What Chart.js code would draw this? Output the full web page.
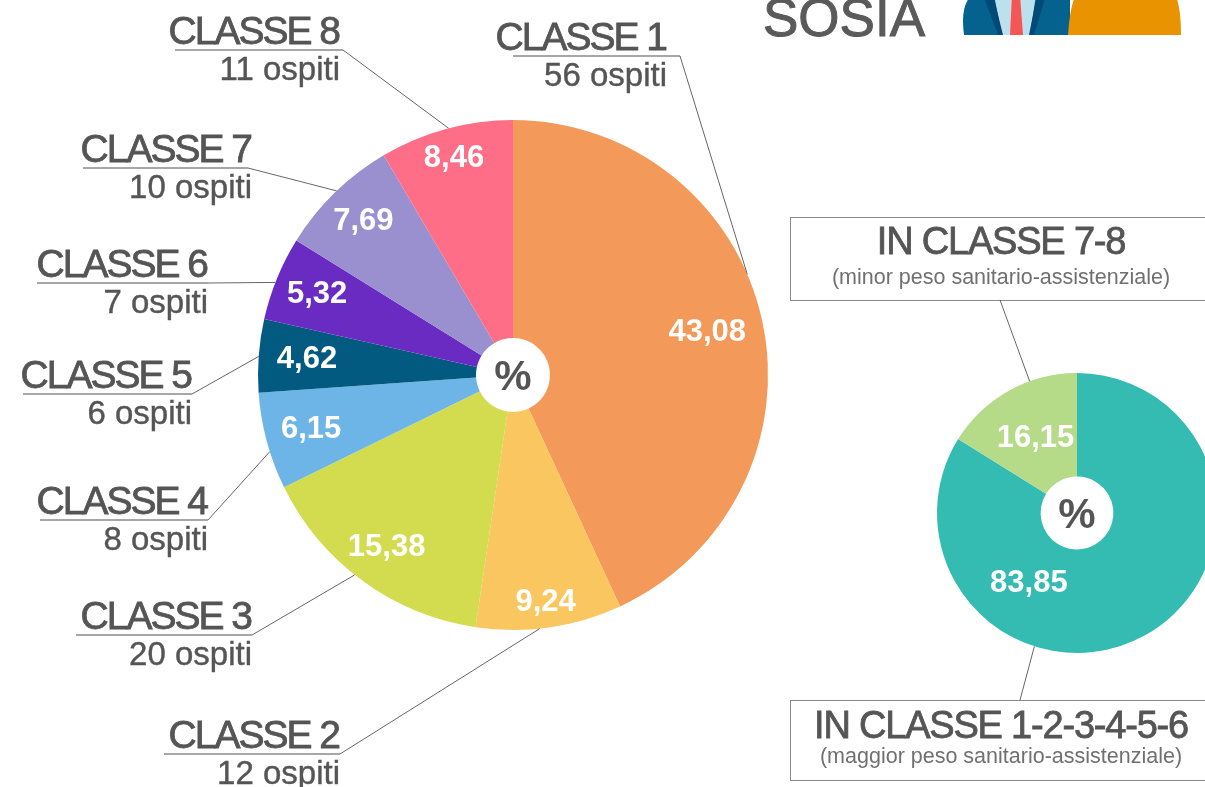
<!DOCTYPE html>
<html>
<head>
<meta charset="utf-8">
<script src="https://cdn.jsdelivr.net/npm/chart.js@4/dist/chart.umd.min.js"></script>
<style>
html, body { margin:0; padding:0; background:#fff; overflow:hidden; width:1205px; height:787px; }
#wrap { position:relative; width:1220px; height:787px; }
canvas { position:absolute; left:0; top:0; }
</style>
</head>
<body>
<div id="wrap">
  <canvas id="classiPie" width="1220" height="787"></canvas>
  <canvas id="gruppiPie" width="1220" height="787"></canvas>
</div>
<script>
// dati
var classi = ['CLASSE 1','CLASSE 2','CLASSE 3','CLASSE 4','CLASSE 5','CLASSE 6','CLASSE 7','CLASSE 8'];
var ospiti = [56, 12, 20, 8, 6, 7, 10, 11];
var percClassi = [43.08, 9.24, 15.38, 6.15, 4.62, 5.32, 7.69, 8.46];
var coloriClassi = ['#F39A5A','#FAC65F','#D3DC4F','#6DB5E6','#035A80','#6A2BC3','#9A8FCF','#FF6E87'];

var gruppi = ['IN CLASSE 1-2-3-4-5-6','IN CLASSE 7-8'];
var gruppiNote = ['(maggior peso sanitario-assistenziale)','(minor peso sanitario-assistenziale)'];
var percGruppi = [83.85, 16.15];
var coloriGruppi = ['#35BCB2','#B5DA88'];

var FONT = '"Liberation Sans", Arial, sans-serif';
var GRIGIO = '#555555';

function virgola(v) {
  return v.toFixed(2).replace('.', ',');
}

function puntoArco(arc, t, frac) {
  var a = arc.startAngle + (arc.endAngle - arc.startAngle) * t;
  var r = arc.outerRadius * frac;
  return { x: arc.x + Math.cos(a) * r, y: arc.y + Math.sin(a) * r };
}

// testo un po' piu' "pieno" (tipo Helvetica medium)
function testoPieno(ctx, s, x, y, spessore) {
  ctx.fillText(s, x, y);
  ctx.lineWidth = spessore;
  ctx.strokeStyle = ctx.fillStyle;
  ctx.strokeText(s, x, y);
}

// etichette dentro le fette + % al centro + richiami
var fettePlugin = {
  id: 'fette',
  afterDatasetsDraw: function(chart, args, opts) {
    var ctx = chart.ctx;
    var meta = chart.getDatasetMeta(0);
    var valori = chart.data.datasets[0].data;
    ctx.save();

    ctx.fillStyle = '#fff';
    ctx.font = 'bold 31px ' + FONT;
    ctx.textAlign = 'center';
    ctx.textBaseline = 'middle';
    meta.data.forEach(function(arc, i) {
      var p = puntoArco(arc, opts.labelT[i], opts.labelR[i]);
      ctx.fillText(virgola(valori[i]), p.x, p.y);
    });

    var c = meta.data[0];
    ctx.fillStyle = GRIGIO;
    ctx.font = 'bold 42px ' + FONT;
    ctx.fillText('%', c.x, c.y + 3);

    if (opts.richiami) opts.richiami(chart, ctx, meta);
    ctx.restore();
  }
};

// posizioni dei testi esterni (solo impaginazione)
var richiamiClassi = {
  testoDx: [666, 339, 251, 207, 191, 207, 251, 339],
  lineaY:  [56, 754, 635, 520, 394, 283, 168, 50],
  lineaSx: [513, 164, 76, 40, 23, 37, 83, 175],
  lineaDx: [680, 340, 252, 208, 192, 208, 248, 343],
  attacco: [0.43, 0.565, 0.54, 0.39, 0.49, 0.45, 0.52, 0.52]
};

function disegnaRichiamiClassi(chart, ctx, meta) {
  var R = richiamiClassi;
  meta.data.forEach(function(arc, i) {
    var y = R.lineaY[i];
    var p = puntoArco(arc, R.attacco[i], 1);
    ctx.strokeStyle = '#8a8a8a';
    ctx.lineWidth = 1.5;
    ctx.beginPath();
    ctx.moveTo(R.lineaSx[i], y);
    ctx.lineTo(R.lineaDx[i], y);
    ctx.stroke();
    ctx.strokeStyle = '#666';
    ctx.lineWidth = 1;
    ctx.beginPath();
    ctx.moveTo(R.lineaDx[i], y);
    ctx.lineTo(p.x, p.y);
    ctx.stroke();

    ctx.fillStyle = GRIGIO;
    ctx.textAlign = 'right';
    ctx.textBaseline = 'alphabetic';
    ctx.font = '39px ' + FONT;
    ctx.letterSpacing = '-2px';
    testoPieno(ctx, classi[i], R.testoDx[i], y - 6, 0.8);
    ctx.letterSpacing = '0px';
    ctx.font = '33px ' + FONT;
    testoPieno(ctx, ospiti[i] + ' ospiti', R.testoDx[i] + 1, y + 30, 0.4);
  });
}

var richiamiGruppi = {
  boxTop: [700, 217],
  boxH: [80, 83],
  titoloY: [738, 254],
  notaY: [763, 284],
  lineaDa: [[1020, 700], [1000, 300]],
  attacco: [0.655, 0.66]
};

function disegnaRichiamiGruppi(chart, ctx, meta) {
  var R = richiamiGruppi;
  meta.data.forEach(function(arc, i) {
    ctx.strokeStyle = '#8a8a8a';
    ctx.lineWidth = 1;
    ctx.strokeRect(790.5, R.boxTop[i] + 0.5, 440, R.boxH[i]);
    var p = puntoArco(arc, R.attacco[i], 1);
    ctx.strokeStyle = '#666';
    ctx.beginPath();
    ctx.moveTo(R.lineaDa[i][0], R.lineaDa[i][1]);
    ctx.lineTo(p.x, p.y);
    ctx.stroke();

    ctx.textAlign = 'center';
    ctx.textBaseline = 'alphabetic';
    ctx.fillStyle = GRIGIO;
    ctx.font = '38px ' + FONT;
    ctx.letterSpacing = '-1.2px';
    testoPieno(ctx, gruppi[i], 1001, R.titoloY[i], 0.8);
    ctx.letterSpacing = '0px';
    ctx.fillStyle = '#707070';
    ctx.font = '21.5px ' + FONT;
    ctx.fillText(gruppiNote[i], 1001, R.notaY[i]);
  });

  // intestazione
  ctx.fillStyle = '#5a5a5a';
  ctx.font = '53px ' + FONT;
  ctx.textAlign = 'left';
  testoPieno(ctx, 'SOSIA', 763, 36, 1);

  ctx.fillStyle = '#05628F';
  ctx.beginPath();
  ctx.moveTo(964, 35);
  ctx.quadraticCurveTo(960, 5, 972, -5);
  ctx.lineTo(1070, -5);
  ctx.lineTo(1070, 35);
  ctx.closePath();
  ctx.fill();
  ctx.fillStyle = '#BCE0EC';
  ctx.beginPath();
  ctx.moveTo(994, -5); ctx.lineTo(1036, -5); ctx.lineTo(1030, 35); ctx.lineTo(1002, 35);
  ctx.closePath(); ctx.fill();
  ctx.fillStyle = '#004A78';
  ctx.beginPath();
  ctx.moveTo(983, -5); ctx.lineTo(993, -5); ctx.lineTo(1003, 35); ctx.lineTo(998, 35);
  ctx.closePath(); ctx.fill();
  ctx.beginPath();
  ctx.moveTo(1037, -5); ctx.lineTo(1046, -5); ctx.lineTo(1034, 35); ctx.lineTo(1029, 35);
  ctx.closePath(); ctx.fill();
  ctx.fillStyle = '#F45656';
  ctx.beginPath();
  ctx.moveTo(1012, -5); ctx.lineTo(1020, -5); ctx.lineTo(1023, 35); ctx.lineTo(1010, 35);
  ctx.closePath(); ctx.fill();
  ctx.fillStyle = '#E99300';
  ctx.beginPath();
  ctx.moveTo(1068, 35);
  ctx.quadraticCurveTo(1070, 5, 1076, -5);
  ctx.lineTo(1175, -5);
  ctx.quadraticCurveTo(1181, 5, 1181, 35);
  ctx.closePath();
  ctx.fill();
}

var opzioniBase = {
  responsive: false,
  animation: false,
  events: []
};

new Chart(document.getElementById('classiPie'), {
  type: 'doughnut',
  data: {
    labels: classi,
    datasets: [{ data: percClassi, backgroundColor: coloriClassi, borderWidth: 0 }]
  },
  options: Object.assign({}, opzioniBase, {
    cutout: '14.5%',
    layout: { padding: { left: 258, right: 452, top: 120, bottom: 157 } },
    plugins: {
      legend: { display: false },
      tooltip: { enabled: false },
      fette: {
        labelT: [0.5, 0.5, 0.5, 0.5, 0.5, 0.5, 0.5, 0.5],
        labelR: [0.78, 0.9, 0.84, 0.82, 0.81, 0.83, 0.84, 0.88],
        richiami: disegnaRichiamiClassi
      }
    }
  }),
  plugins: [fettePlugin]
});

new Chart(document.getElementById('gruppiPie'), {
  type: 'doughnut',
  data: {
    labels: gruppi,
    datasets: [{ data: percGruppi, backgroundColor: coloriGruppi, borderWidth: 0 }]
  },
  options: Object.assign({}, opzioniBase, {
    cutout: '26%',
    layout: { padding: { left: 937, right: 3, top: 373, bottom: 134 } },
    plugins: {
      legend: { display: false },
      tooltip: { enabled: false },
      fette: {
        labelT: [0.71, 0.5],
        labelR: [0.61, 0.61],
        richiami: disegnaRichiamiGruppi
      }
    }
  }),
  plugins: [fettePlugin]
});
</script>
</body>
</html>
